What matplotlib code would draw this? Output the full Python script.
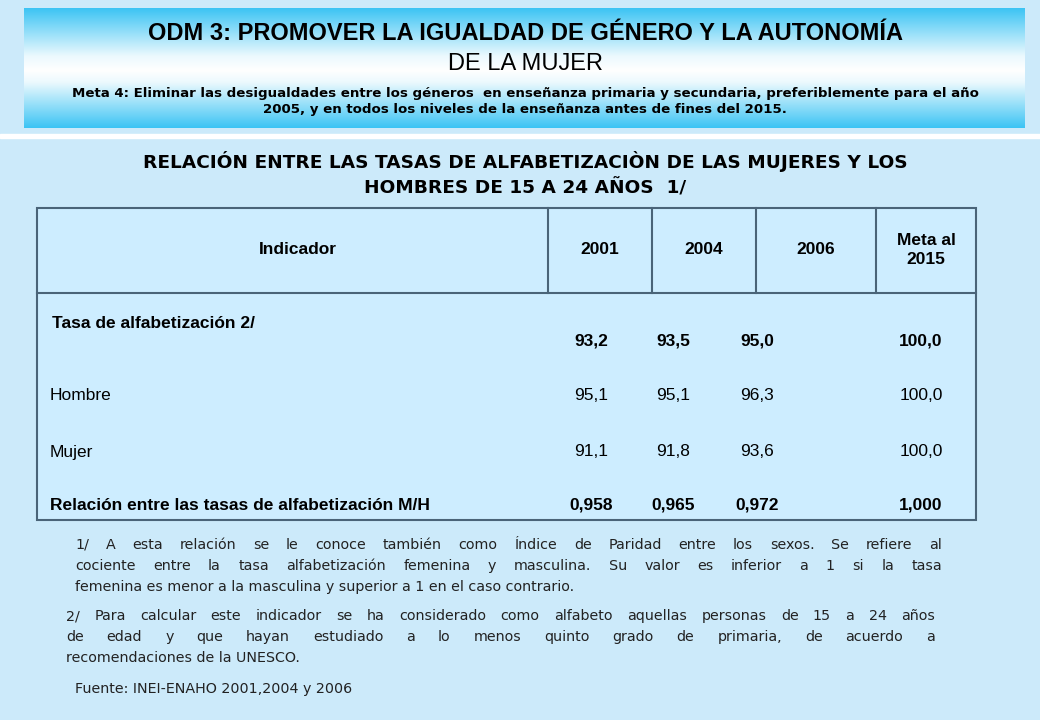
import numpy as np
import matplotlib
matplotlib.use("Agg")
import matplotlib.pyplot as plt
from matplotlib.patches import Rectangle

years = ["2001", "2004", "2006", "Meta al\n2015"]
row_labels = ["Tasa de alfabetización 2/", "Hombre", "Mujer",
              "Relación entre las tasas de alfabetización M/H"]
tasa = ["93,2", "93,5", "95,0", "100,0"]
hombre = ["95,1", "95,1", "96,3", "100,0"]
mujer = ["91,1", "91,8", "93,6", "100,0"]
relacion = ["0,958", "0,965", "0,972", "1,000"]
rows = [tasa, hombre, mujer, relacion]
bold_rows = [True, False, False, True]

W, H = 1040, 720
fig = plt.figure(figsize=(W/100, H/100), dpi=100)
fig.patch.set_facecolor("#CCEAFA")
ax = fig.add_axes([0, 0, 1, 1])
ax.set_xlim(0, W); ax.set_ylim(H, 0); ax.axis("off")
renderer = fig.canvas.get_renderer()

c1 = np.array([0x3C, 0xC4, 0xF4]) / 255; c2 = np.array([1, 1, 1])
ys = np.linspace(0, 1, 200)
prof = np.interp(ys, [0, 0.4, 0.52, 0.62, 1], [0, 0.9, 1, 0.9, 0])
grad = (c1[None, :] * (1 - prof[:, None]) + c2[None, :] * prof[:, None])[:, None, :]
ax.imshow(grad, extent=[24, 1025, 128, 8], aspect="auto", zorder=1)
ax.add_patch(Rectangle((0, 134), W, 4, color="white", zorder=1))

ax.text(525, 33, "ODM 3: PROMOVER LA IGUALDAD DE GÉNERO Y LA AUTONOMÍA",
        ha="center", va="center", fontsize=17, weight="bold", family="Liberation Sans", zorder=3)
ax.text(525, 64, "DE LA MUJER", ha="center", va="center", fontsize=17,
        family="Liberation Sans", zorder=3)
ax.text(525, 93, "Meta 4: Eliminar las desigualdades entre los géneros  en enseñanza primaria y secundaria, preferiblemente para el año",
        ha="center", va="center", fontsize=9.6, weight="bold", family="DejaVu Sans", zorder=3)
ax.text(525, 110, "2005, y en todos los niveles de la enseñanza antes de fines del 2015.",
        ha="center", va="center", fontsize=9.6, weight="bold", family="DejaVu Sans", zorder=3)

ax.text(525, 162, "RELACIÓN ENTRE LAS TASAS DE ALFABETIZACIÒN DE LAS MUJERES Y LOS",
        ha="center", va="center", fontsize=13.3, weight="bold", family="DejaVu Sans")
ax.text(525, 188, "HOMBRES DE 15 A 24 AÑOS  1/", ha="center", va="center",
        fontsize=13.3, weight="bold", family="DejaVu Sans")

L, R, T, HB, B = 37, 976, 208, 293, 520
xs = [L, 548, 652, 756, 876, R]
lc = "#4A6478"
ax.add_patch(Rectangle((L, T), R - L, B - T, facecolor="#CDEDFF", edgecolor=lc, lw=1.5, zorder=2))
ax.plot([L, R], [HB, HB], color=lc, lw=1.5, zorder=3)
for x in xs[1:-1]:
    ax.plot([x, x], [T, HB], color=lc, lw=1.5, zorder=3)
f = dict(family="Liberation Sans", zorder=4, va="center")
fs = 12.5
ax.text(298, 250, "Indicador", ha="center", fontsize=fs, weight="bold", **f)
for i, y in enumerate(years):
    ax.text((xs[i+1] + xs[i+2]) / 2, 250, y, ha="center", fontsize=fs, weight="bold",
            linespacing=1.3, **f)
val_x = [591, 673, 757, 921]
label_y = [323, 396, 452, 505]
val_y = [341, 396, 452, 505]
for r, (lab, vals) in enumerate(zip(row_labels, rows)):
    w = "bold" if bold_rows[r] else "normal"
    ax.text(52 if r == 0 else 50, label_y[r], lab, ha="left", fontsize=fs, weight=w, **f)
    for i, v in enumerate(vals):
        ax.text(val_x[i], val_y[r], v, ha="center", fontsize=fs, weight=w, **f)

nf = dict(family="DejaVu Sans", fontsize=10.3, va="center", color="#222222")

def justify(x0, x1, y, line, full=True):
    words = line.split()
    if not full:
        ax.text(x0, y, line, ha="left", **nf); return
    arts = [ax.text(0, y, wd, ha="left", **nf) for wd in words]
    inv = ax.transData.inverted()
    widths = []
    for a in arts:
        bb = a.get_window_extent(renderer)
        widths.append(abs(inv.transform((bb.x1, 0))[0] - inv.transform((bb.x0, 0))[0]))
    gap = (x1 - x0 - sum(widths)) / max(len(words) - 1, 1)
    x = x0
    for a, wd in zip(arts, widths):
        a.set_x(x); x += wd + gap

notes1 = ["1/ A esta relación se le conoce también como Índice de Paridad entre los sexos. Se refiere al",
          "cociente entre la tasa alfabetización femenina y masculina. Su valor es inferior a 1 si la tasa",
          "femenina es menor a la masculina y superior a 1 en el caso contrario."]
for k, t in enumerate(notes1):
    justify(75, 942, 545 + 21 * k, t, k < 2)
notes2 = ["2/ Para calcular este indicador se ha considerado como alfabeto aquellas personas de 15 a 24 años",
          "de edad y que hayan estudiado a lo menos quinto grado de primaria, de acuerdo a",
          "recomendaciones de la UNESCO."]
for k, t in enumerate(notes2):
    justify(66, 935, 616 + 21 * k, t, k < 2)
ax.text(75, 689, "Fuente: INEI-ENAHO 2001,2004 y 2006", ha="left", **nf)

fig.savefig("out.png", dpi=100, facecolor=fig.get_facecolor())
